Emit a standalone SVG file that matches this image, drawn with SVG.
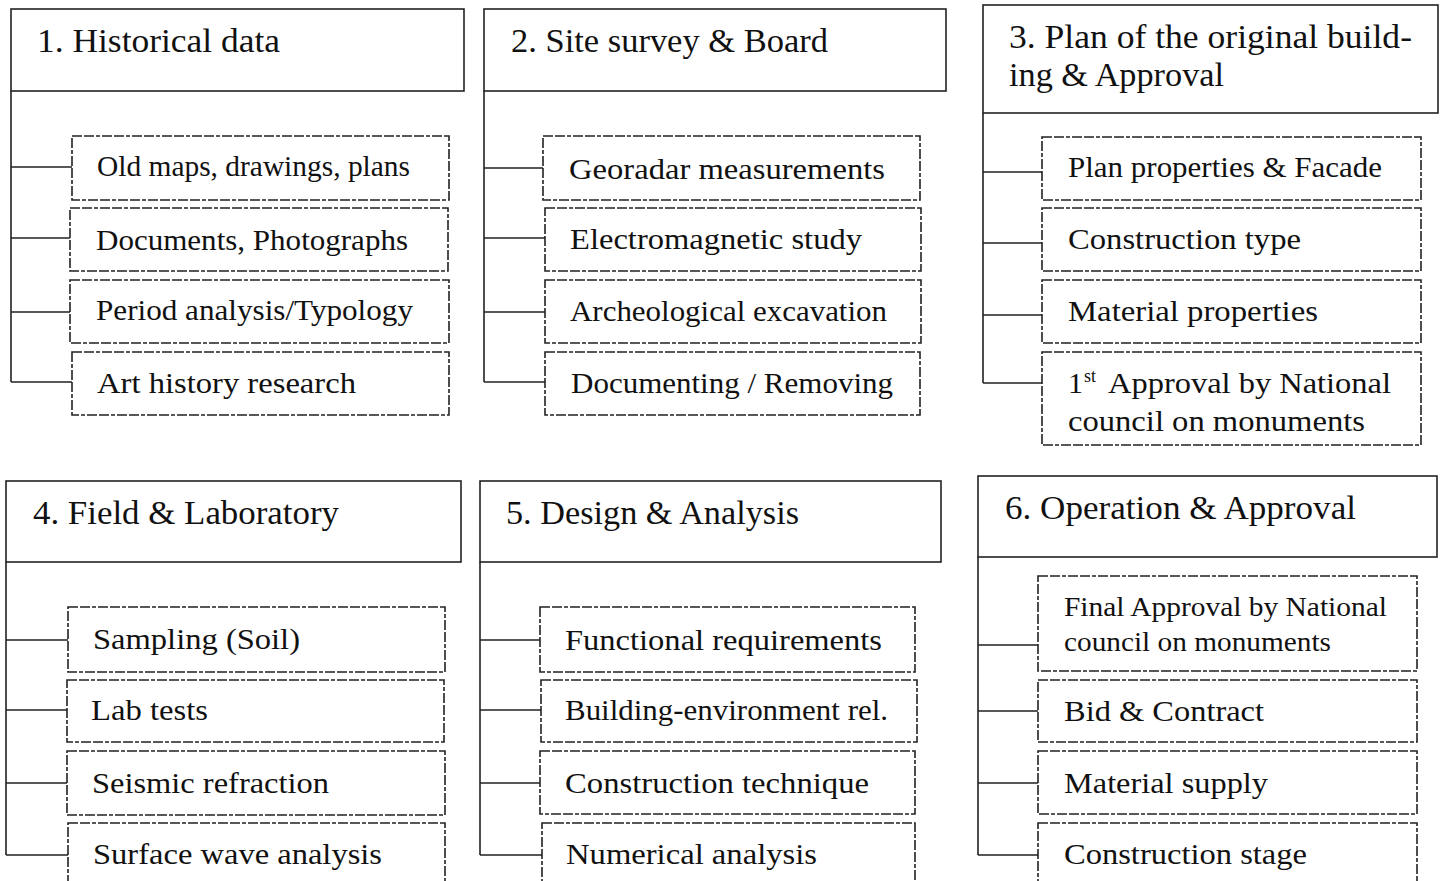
<svg xmlns="http://www.w3.org/2000/svg" width="1442" height="881" viewBox="0 0 1442 881">
<style>
.hdr{fill:#fff;stroke:#222;stroke-width:1.6}
.itm{fill:#fff;stroke:#222;stroke-width:1.6;stroke-dasharray:10 2 10 2 4 2}
.ln{fill:none;stroke:#222;stroke-width:1.6}
.ht{font-family:'Liberation Serif','Times New Roman',Tinos,'DejaVu Serif',serif;font-size:34px;fill:#111}
.it{font-family:'Liberation Serif','Times New Roman',Tinos,'DejaVu Serif',serif;font-size:30px;fill:#111}
.sm{font-family:'Liberation Serif','Times New Roman',Tinos,'DejaVu Serif',serif;font-size:27px;fill:#111}
.sup{font-family:'Liberation Serif','Times New Roman',Tinos,'DejaVu Serif',serif;font-size:18px;fill:#111}
</style>
<rect width="1442" height="881" fill="#fff"/>
<g id="connectors">
<path class="ln" d="M11 91V382M11 167H72M11 238H70M11 312H70M11 382H72"/>
<path class="ln" d="M484 91V382M484 168H543M484 238H545M484 312H545M484 382H545"/>
<path class="ln" d="M983 113V383M983 172H1042M983 243H1042M983 315H1042M983 383H1042"/>
<path class="ln" d="M6 562V855M6 640H68M6 710H67M6 783H67M6 855H68"/>
<path class="ln" d="M480 562V855M480 640H540M480 710H541M480 783H540M480 855H542"/>
<path class="ln" d="M978 557V855M978 645H1038M978 711H1038M978 783H1038M978 855H1038"/>
</g>
<g id="n1">
<rect class="hdr" x="11" y="9" width="453" height="82"/>
<text class="ht" x="37" y="52" textLength="243" lengthAdjust="spacingAndGlyphs">1. Historical data</text>
</g>
<g id="n1a"><rect class="itm" x="72" y="136" width="377" height="64"/><text class="it" x="97" y="176" textLength="313" lengthAdjust="spacingAndGlyphs">Old maps, drawings, plans</text></g>
<g id="n1b"><rect class="itm" x="70" y="208" width="378" height="63"/><text class="it" x="96" y="250" textLength="312" lengthAdjust="spacingAndGlyphs">Documents, Photographs</text></g>
<g id="n1c"><rect class="itm" x="70" y="280" width="379" height="63"/><text class="it" x="96" y="320" textLength="317" lengthAdjust="spacingAndGlyphs">Period analysis/Typology</text></g>
<g id="n1d"><rect class="itm" x="72" y="352" width="377" height="63"/><text class="it" x="97" y="393" textLength="259" lengthAdjust="spacingAndGlyphs">Art history research</text></g>

<g id="n2">
<rect class="hdr" x="484" y="9" width="462" height="82"/>
<text class="ht" x="511" y="52" textLength="317" lengthAdjust="spacingAndGlyphs">2. Site survey &amp; Board</text>
</g>
<g id="n2a"><rect class="itm" x="543" y="136" width="377" height="64"/><text class="it" x="569" y="179" textLength="316" lengthAdjust="spacingAndGlyphs">Georadar measurements</text></g>
<g id="n2b"><rect class="itm" x="545" y="208" width="376" height="63"/><text class="it" x="570" y="249" textLength="292" lengthAdjust="spacingAndGlyphs">Electromagnetic study</text></g>
<g id="n2c"><rect class="itm" x="545" y="280" width="376" height="63"/><text class="it" x="570" y="321" textLength="317" lengthAdjust="spacingAndGlyphs">Archeological excavation</text></g>
<g id="n2d"><rect class="itm" x="545" y="352" width="375" height="63"/><text class="it" x="571" y="393" textLength="322" lengthAdjust="spacingAndGlyphs">Documenting / Removing</text></g>

<g id="n3">
<rect class="hdr" x="983" y="5" width="455" height="108"/>
<text class="ht" x="1009" y="48" textLength="403" lengthAdjust="spacingAndGlyphs">3. Plan of the original build-</text>
<text class="ht" x="1009" y="86" textLength="215" lengthAdjust="spacingAndGlyphs">ing &amp; Approval</text>
</g>
<g id="n3a"><rect class="itm" x="1042" y="137" width="379" height="63"/><text class="it" x="1068" y="177" textLength="314" lengthAdjust="spacingAndGlyphs">Plan properties &amp; Facade</text></g>
<g id="n3b"><rect class="itm" x="1042" y="208" width="379" height="63"/><text class="it" x="1068" y="249" textLength="233" lengthAdjust="spacingAndGlyphs">Construction type</text></g>
<g id="n3c"><rect class="itm" x="1042" y="280" width="379" height="63"/><text class="it" x="1068" y="321" textLength="250" lengthAdjust="spacingAndGlyphs">Material properties</text></g>
<g id="n3d"><rect class="itm" x="1042" y="352" width="379" height="93"/>
<text class="it" x="1068" y="393">1</text><text class="sup" x="1084" y="382">st</text>
<text class="it" x="1108" y="393" textLength="283" lengthAdjust="spacingAndGlyphs">Approval by National</text>
<text class="it" x="1068" y="431" textLength="297" lengthAdjust="spacingAndGlyphs">council on monuments</text></g>

<g id="n4">
<rect class="hdr" x="6" y="481" width="455" height="81"/>
<text class="ht" x="33" y="524" textLength="306" lengthAdjust="spacingAndGlyphs">4. Field &amp; Laboratory</text>
</g>
<g id="n4a"><rect class="itm" x="68" y="607" width="377" height="65"/><text class="it" x="93" y="649" textLength="207" lengthAdjust="spacingAndGlyphs">Sampling (Soil)</text></g>
<g id="n4b"><rect class="itm" x="67" y="680" width="377" height="62"/><text class="it" x="91" y="720" textLength="117" lengthAdjust="spacingAndGlyphs">Lab tests</text></g>
<g id="n4c"><rect class="itm" x="67" y="751" width="378" height="64"/><text class="it" x="92" y="793" textLength="237" lengthAdjust="spacingAndGlyphs">Seismic refraction</text></g>
<g id="n4d"><rect class="itm" x="68" y="823" width="377" height="80"/><text class="it" x="93" y="864" textLength="289" lengthAdjust="spacingAndGlyphs">Surface wave analysis</text></g>

<g id="n5">
<rect class="hdr" x="480" y="481" width="461" height="81"/>
<text class="ht" x="506" y="524" textLength="293" lengthAdjust="spacingAndGlyphs">5. Design &amp; Analysis</text>
</g>
<g id="n5a"><rect class="itm" x="540" y="607" width="375" height="65"/><text class="it" x="565" y="650" textLength="317" lengthAdjust="spacingAndGlyphs">Functional requirements</text></g>
<g id="n5b"><rect class="itm" x="541" y="680" width="376" height="62"/><text class="it" x="565" y="720" textLength="323" lengthAdjust="spacingAndGlyphs">Building-environment rel.</text></g>
<g id="n5c"><rect class="itm" x="540" y="751" width="375" height="63"/><text class="it" x="565" y="793" textLength="304" lengthAdjust="spacingAndGlyphs">Construction technique</text></g>
<g id="n5d"><rect class="itm" x="542" y="823" width="373" height="80"/><text class="it" x="566" y="864" textLength="251" lengthAdjust="spacingAndGlyphs">Numerical analysis</text></g>

<g id="n6">
<rect class="hdr" x="978" y="476" width="459" height="81"/>
<text class="ht" x="1005" y="519" textLength="351" lengthAdjust="spacingAndGlyphs">6. Operation &amp; Approval</text>
</g>
<g id="n6a"><rect class="itm" x="1038" y="576" width="379" height="95"/>
<text class="sm" x="1064" y="616" textLength="323" lengthAdjust="spacingAndGlyphs">Final Approval by National</text>
<text class="sm" x="1064" y="651" textLength="267" lengthAdjust="spacingAndGlyphs">council on monuments</text></g>
<g id="n6b"><rect class="itm" x="1038" y="680" width="379" height="62"/><text class="it" x="1064" y="721" textLength="200" lengthAdjust="spacingAndGlyphs">Bid &amp; Contract</text></g>
<g id="n6c"><rect class="itm" x="1038" y="751" width="379" height="63"/><text class="it" x="1064" y="793" textLength="204" lengthAdjust="spacingAndGlyphs">Material supply</text></g>
<g id="n6d"><rect class="itm" x="1038" y="823" width="379" height="80"/><text class="it" x="1064" y="864" textLength="243" lengthAdjust="spacingAndGlyphs">Construction stage</text></g>
</svg>
